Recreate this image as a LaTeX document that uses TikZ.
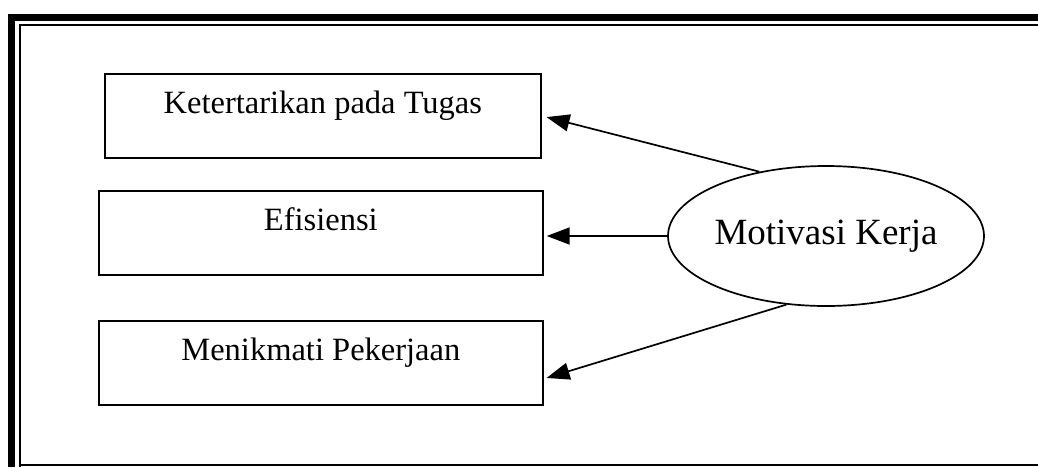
\documentclass[tikz,border=0pt]{standalone}
\usepackage{fontspec}
\setmainfont{Liberation Serif}
\usetikzlibrary{arrows.meta}
\usetikzlibrary{positioning}
\usetikzlibrary{shapes.geometric}
\tikzset{kotak/.style = {draw, line width = 1.7pt, inner sep = 0, minimum height = 84pt, text height = 40pt, text depth = 44pt, font = \fontsize{32.5}{37}\selectfont}}
\tikzset{bulat/.style = {draw, ellipse, line width = 1.7pt, inner sep = 0, minimum width = 316pt, minimum height = 140pt, font = \fontsize{37}{42}\selectfont}}
\tikzset{panah/.style = {line width = 1.7pt, -{Triangle[length = 23pt, width = 17pt]}}}

\begin{document}
\begin{tikzpicture}[x = 1pt, y = -1pt]
    \useasboundingbox (0, 0) rectangle (1038, 467);
    \draw [line width = 7pt] (11.5, 467) -- (11.5, 17.5) -- (1038, 17.5);
    \draw [line width = 2pt] (20, 467) -- (20, 24.5) -- (1038, 24.5);
    \draw [line width = 1.5pt] (20, 465) -- (1038, 465);
    \node [kotak, minimum width = 436pt, anchor = north west] (tugas) at (104, 73) {Ketertarikan pada Tugas};
    \node [kotak, minimum width = 444pt, anchor = north west] (efisiensi) at (98, 190) {Efisiensi};
    \node [kotak, minimum width = 444pt, anchor = north west] (nikmat) at (98, 320) {Menikmati Pekerjaan};
    \node [bulat] (motivasi) at (826, 236) {Motivasi Kerja};
    \draw [panah, shorten > = 5pt] (motivasi.136) -- (tugas.east);
    \draw [panah, shorten > = 3pt] (motivasi.west) -- (efisiensi.east |- motivasi.west);
    \draw [panah, shorten > = 3pt] (motivasi.240) -- ([yshift = -16pt]nikmat.east);
  \end{tikzpicture}
\end{document}
